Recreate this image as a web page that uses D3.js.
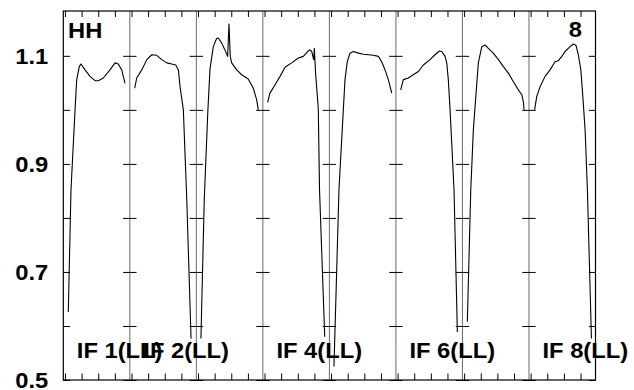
<!DOCTYPE html>
<html><head><meta charset="utf-8">
<script src="https://cdn.jsdelivr.net/npm/d3@7"></script>
<style>
html,body{margin:0;padding:0;background:#fff;}
svg{display:block;}
text{font-family:"Liberation Sans",Arial,Helvetica,sans-serif;font-weight:bold;fill:#000;}
</style></head>
<body>
<svg id="chart" width="634" height="390"></svg>
<script>
// ---- data (channel index within each IF, normalised amplitude) ----
const ch1 = [3.2,5.8,9.7,11.3,13.8,15.4,19.3,24.1,28.9,32.1,36.9,43.3,48.2,51.3,54.6,57.8];
const amp1 = [0.626,0.852,1.000,1.056,1.080,1.085,1.074,1.062,1.054,1.054,1.059,1.074,1.087,1.085,1.074,1.049];
const ch2 = [3.1,5.0,9.9,14.7,19.5,24.3,29.1,33.9,38.7,42.6,45.1,46.7,49.9,53.2,57.3];
const amp2 = [1.040,1.059,1.074,1.093,1.102,1.101,1.093,1.087,1.085,1.083,1.074,1.043,1.000,0.833,0.577];
const ch3 = [2.8,6.0,9.3,11.5,14.7,17.9,19.5,22.7,25.9,28.5,29.8,31.0,32.4,37.2,42.0,48.3,53.2,56.4,58.0];
const amp3 = [0.577,0.833,0.991,1.075,1.117,1.132,1.133,1.124,1.111,1.099,1.159,1.099,1.087,1.074,1.065,1.057,1.040,1.019,1.000];
const ch4 = [3.0,5.2,10.0,14.9,19.7,26.1,32.5,37.3,42.1,43.7,45.4,47.3,47.9,49.2,51.7,52.9,57.9];
const amp4 = [1.014,1.031,1.046,1.062,1.079,1.087,1.096,1.099,1.109,1.111,1.108,1.093,1.114,1.065,1.003,0.852,0.580];
const ch5 = [2.8,7.6,11.8,13.4,15.6,18.2,21.4,26.2,31.0,35.8,40.6,45.5,48.7,51.9,55.1,58.4];
const amp5 = [0.525,0.852,1.000,1.056,1.089,1.105,1.108,1.105,1.103,1.102,1.101,1.099,1.089,1.074,1.056,1.031];
const ch6 = [3.0,5.5,10.3,15.1,20.0,24.8,31.2,36.0,40.2,42.5,45.7,47.3,48.8,50.5,54.3,57.5];
const amp6 = [1.037,1.056,1.059,1.065,1.071,1.083,1.093,1.102,1.109,1.108,1.099,1.087,1.056,1.000,0.852,0.589];
const ch7 = [3.1,6.4,8.9,11.5,13.7,17.0,20.2,23.3,28.1,33.0,37.8,42.6,47.4,52.2,55.5,57.0,57.7];
const amp7 = [0.608,0.852,0.963,1.031,1.087,1.117,1.120,1.114,1.105,1.093,1.080,1.068,1.052,1.037,1.028,1.015,1.000];
const ch8 = [3.8,5.9,9.1,13.9,18.7,23.5,26.7,30.0,33.1,38.0,41.1,43.7,45.9,48.3,50.2,52.4,54.6,58.5];
const amp8 = [1.000,1.025,1.043,1.062,1.074,1.089,1.091,1.099,1.108,1.117,1.122,1.119,1.102,1.074,1.025,0.963,0.852,0.577];

const panelCh = [ch1,ch2,ch3,ch4,ch5,ch6,ch7,ch8];
const panelAmp = [amp1,amp2,amp3,amp4,amp5,amp6,amp7,amp8];
const ifLabels = ["IF 1(LL)","IF 2(LL)","","IF 4(LL)","","IF 6(LL)","","IF 8(LL)"];
const yTicks = [0.5,0.6,0.7,0.8,0.9,1.0,1.1];
const yTickLabels = [0.5,0.7,0.9,1.1];
const xTicks = [0,16,32,48];
const channelDomain = [-1.6,62.4];
const ampDomain = [0.5,1.183];
const stokesLabel = "HH";
const sourceLabel = "8";

// ---- layout ----
const svg = d3.select("#chart");
const L = 63.3, R = 595.5, T = 11, B = 380;
const nP = panelCh.length;
const pw = (R - L) / nP;
const y = d3.scaleLinear().domain(ampDomain).range([B, T]);
const FS = 22, SX = 1.08;

// panel separators
for (let i = 1; i < nP; i++) {
  svg.append("line").attr("x1", L + i*pw).attr("x2", L + i*pw)
    .attr("y1", T).attr("y2", B).attr("stroke", "#6a6a6a").attr("stroke-width", 1);
}

// y ticks at every boundary
for (let i = 0; i <= nP; i++) {
  const xb = L + i*pw;
  if (i < nP) {
    const g = svg.append("g").attr("transform", `translate(${xb},0)`)
      .call(d3.axisRight(y).tickValues(yTicks).tickSize(6.7).tickFormat(""));
    g.select(".domain").remove();
  }
  if (i > 0) {
    const g = svg.append("g").attr("transform", `translate(${xb},0)`)
      .call(d3.axisLeft(y).tickValues(yTicks).tickSize(6.7).tickFormat(""));
    g.select(".domain").remove();
  }
}

// y labels
const fmt = d3.format(".1f");
svg.append("g").selectAll("text").data(yTickLabels).join("text")
  .attr("transform", d => `translate(${L - 15},${y(d)}) scale(${SX},1)`)
  .attr("dy", "0.36em").attr("text-anchor", "end").attr("font-size", FS)
  .text(d => fmt(d));

panelCh.forEach((chs, i) => {
  const x = d3.scaleLinear().domain(channelDomain).range([L + i*pw, L + (i+1)*pw]);
  const gt = svg.append("g").attr("transform", `translate(0,${T})`)
    .call(d3.axisTop(x).tickValues(xTicks).tickSize(-6).tickFormat(""));
  gt.select(".domain").remove();
  const gb = svg.append("g").attr("transform", `translate(0,${B})`)
    .call(d3.axisBottom(x).tickValues(xTicks).tickSize(-6.5).tickFormat(""));
  gb.select(".domain").remove();

  const pts = chs.map((c, k) => [c, panelAmp[i][k]]);
  svg.append("path").datum(pts)
    .attr("fill", "none").attr("stroke", "#000").attr("stroke-width", 1.1)
    .attr("stroke-linejoin", "round")
    .attr("d", d3.line().x(d => x(d[0])).y(d => y(d[1])));

  if (ifLabels[i]) {
    svg.append("text")
      .attr("transform", `translate(${x(channelDomain[0]) + 13.5},357.7) scale(${SX},1)`)
      .attr("font-size", FS).text(ifLabels[i]);
  }
});

// frame
svg.append("rect").attr("x", L).attr("y", T).attr("width", R - L).attr("height", B - T)
  .attr("fill", "none").attr("stroke", "#000").attr("stroke-width", 1.2);

svg.append("text").attr("transform", `translate(68,37.7) scale(${SX},1)`)
  .attr("font-size", FS).text(stokesLabel);
svg.append("text").attr("transform", `translate(582,37) scale(${SX},1)`)
  .attr("font-size", FS).attr("text-anchor", "end").text(sourceLabel);

svg.selectAll(".tick line").attr("stroke", "#000").attr("stroke-width", 1);
</script>
</body></html>
